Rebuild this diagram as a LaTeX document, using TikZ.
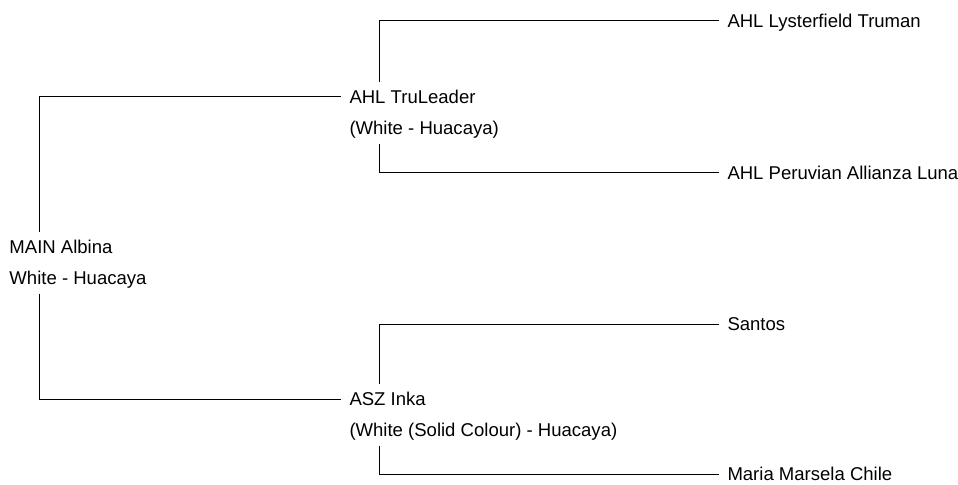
\documentclass[tikz,border=0pt]{standalone}
\usepackage{fontspec}
\setmainfont{Liberation Sans}
\usepackage{tikz}
\usetikzlibrary{positioning}
\usetikzlibrary{calc}
\tikzstyle{pedigree} = [x = 0.75pt, y = -0.75pt, line width = 0.75pt]
\tikzstyle{pedigree_name} = [anchor = west, inner sep = 0, text height = 10pt, text depth = 0pt, font = \fontsize{13.9}{16}\selectfont]
\tikzstyle{pedigree_breed} = [pedigree_name, text depth = 2.9pt]
\tikzstyle{sire_link} = [draw, shorten < = 6pt, shorten > = 6pt]
\tikzstyle{dam_link} = [draw, shorten < = 3.4pt, shorten > = 6pt]

\begin{document}
\begin{tikzpicture}[pedigree]
        \useasboundingbox (0, 0) rectangle (958, 485);
        % animals
        \node [pedigree_name] (root) at (9, 247) {MAIN Albina};
        \node [pedigree_breed, below right = 12.55pt and 0pt of root.south west] (root_breed) {White - Huacaya};
        \node [pedigree_name] (sire) at (349, 97) {AHL TruLeader};
        \node [pedigree_breed, below right = 12.55pt and 0pt of sire.south west] (sire_breed) {(White - Huacaya)};
        \node [pedigree_name] (dam) at (349, 399) {ASZ Inka};
        \node [pedigree_breed, below right = 12.55pt and 0pt of dam.south west] (dam_breed) {(White (Solid Colour) - Huacaya)};
        \node [pedigree_name] (sire_sire) at (727, 21) {AHL Lysterfield Truman};
        \node [pedigree_name] (sire_dam) at (727, 173) {AHL Peruvian Allianza Luna};
        \node [pedigree_name] (dam_sire) at (727, 324) {Santos};
        \node [pedigree_name] (dam_dam) at (727, 474) {Maria Marsela Chile};
        % links
        \draw [sire_link] ($(root.north west) + (30, 0)$) |- (sire.west);
        \draw [dam_link] ($(root_breed.south west) + (30, 0)$) |- (dam.west);
        \draw [sire_link] ($(sire.north west) + (30, 0)$) |- (sire_sire.west);
        \draw [dam_link] ($(sire_breed.south west) + (30, 0)$) |- (sire_dam.west);
        \draw [sire_link] ($(dam.north west) + (30, 0)$) |- (dam_sire.west);
        \draw [dam_link] ($(dam_breed.south west) + (30, 0)$) |- (dam_dam.west);
    \end{tikzpicture}
\end{document}
